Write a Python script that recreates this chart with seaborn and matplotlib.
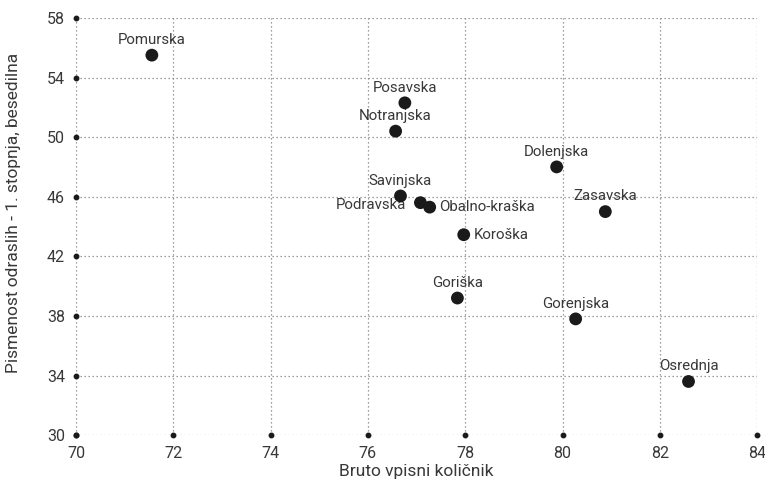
import matplotlib
matplotlib.use("Agg")
import matplotlib.pyplot as plt
import seaborn as sns
import pandas as pd

regions = ["Pomurska", "Posavska", "Notranjska", "Dolenjska", "Savinjska", "Podravska",
           "Obalno-kraška", "Koroška", "Zasavska", "Goriška", "Gorenjska", "Osrednja"]
vpis = [71.56, 76.76, 76.57, 79.88, 76.67, 77.08, 77.27, 77.97, 80.88, 77.84, 80.27, 82.59]
pismenost = [55.5, 52.3, 50.4, 48.0, 46.05, 45.6, 45.3, 43.45, 45.0, 39.2, 37.8, 33.6]
label_pos = ["top", "top", "top", "top", "top", "left", "right", "right", "top", "top", "top", "top"]

xticks = [70, 72, 74, 76, 78, 80, 82, 84]
yticks = [30, 34, 38, 42, 46, 50, 54, 58]

sns.set_theme(style="white")
plt.rcParams['font.family'] = ['Roboto', 'DejaVu Sans']

df = pd.DataFrame({"x": vpis, "y": pismenost, "r": regions})

fig = plt.figure(figsize=(7.65, 4.84), dpi=100)
ax = fig.add_axes([0.0993, 0.101, 0.8904, 0.862])
text_c = "#383838"
fw = "normal"

ax.set_xlim(70, 84)
ax.set_ylim(30, 58)
ax.set_xticks(xticks)
ax.set_yticks(yticks)
for v in xticks:
    ax.axvline(v, color="#808080", lw=0.9, ls=(0, (1, 2.2)), zorder=0)
for v in yticks:
    ax.axhline(v, color="#808080", lw=0.9, ls=(0, (1, 2.2)), zorder=0)
for s in ax.spines.values():
    s.set_visible(False)
ax.plot(xticks, [30] * len(xticks), ls="none", marker="o", ms=3.2, color="#1a1a1a", clip_on=False, zorder=3)
ax.plot([70] * len(yticks), yticks, ls="none", marker="o", ms=3.2, color="#1a1a1a", clip_on=False, zorder=3)

sns.scatterplot(data=df, x="x", y="y", ax=ax, s=85, color="#1a1a1a", edgecolor="none", zorder=4, clip_on=False)

fs_ann = 10.8
for xv, yv, name, pos in zip(vpis, pismenost, regions, label_pos):
    if pos == "top":
        ax.annotate(name, (xv, yv), xytext=(0, 6), textcoords="offset points",
                    ha="center", va="bottom", fontsize=fs_ann, color=text_c, fontweight=fw)
    elif pos == "left":
        ax.annotate(name, (xv, yv), xytext=(-10, -2), textcoords="offset points",
                    ha="right", va="center", fontsize=fs_ann, color=text_c, fontweight=fw)
    else:
        ax.annotate(name, (xv, yv), xytext=(7, 0), textcoords="offset points",
                    ha="left", va="center", fontsize=fs_ann, color=text_c, fontweight=fw)

ax.tick_params(axis="x", length=0, pad=8, labelsize=11.5, colors=text_c)
ax.tick_params(axis="y", length=0, pad=8, labelsize=11.5, colors=text_c)
for lab in ax.get_xticklabels() + ax.get_yticklabels():
    lab.set_fontweight(fw)
ax.set_xlabel("Bruto vpisni količnik", fontsize=12.5, color=text_c, fontweight=fw, labelpad=2)
ax.set_ylabel("Pismenost odraslih - 1. stopnja, besedilna", fontsize=12.5, color=text_c,
              fontweight=fw)
ax.yaxis.set_label_coords(-0.081, 0.532)

fig.savefig("out.png", dpi=100)
